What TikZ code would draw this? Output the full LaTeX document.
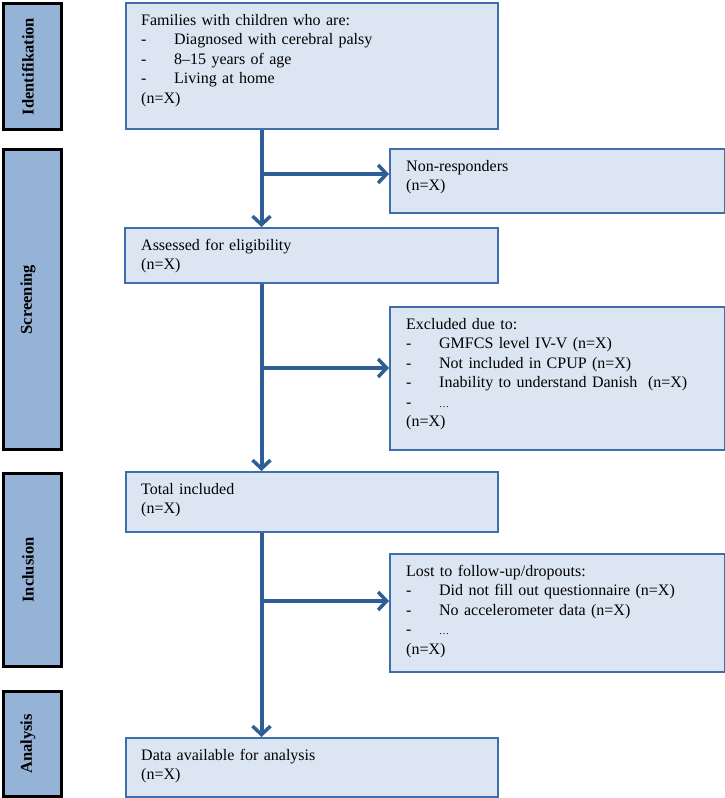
\documentclass[tikz,border=0pt]{standalone}
\usepackage{fontspec}
\setmainfont{Liberation Serif}
\usetikzlibrary{arrows.meta,calc}
\definecolor{boxfill}{HTML}{DCE6F2}
\definecolor{boxline}{HTML}{3F6FAA}
\definecolor{arrowc}{HTML}{2F5D95}
\definecolor{barfill}{HTML}{95B3D7}
\newcommand{\itm}[1]{\makebox[33pt][l]{-}#1}
\begin{document}
\begin{tikzpicture}[x=1pt,y=-1pt,
  box/.style={draw=boxline, fill=boxfill, line width=2pt, inner sep=0pt, anchor=north west},
  sidebar/.style={draw=black, fill=barfill, line width=3pt, inner sep=0pt, anchor=north west, minimum width=58pt},
  barlabel/.style={rotate=90, inner sep=0pt, font=\fontsize{16.5}{18}\selectfont\bfseries},
  txt/.style={anchor=north west, inner sep=0pt, text width=315pt, align=left, font=\fontsize{16}{19.5}\selectfont},
  flow/.style={draw=arrowc, line width=4pt, -{Straight Barb[length=8.5pt,width=18pt,line width=3.5pt]}}]

\useasboundingbox (0,0) rectangle (725,798);

% side bars
\node[sidebar, minimum height=126pt] (ident) at (2,2) {};
\node[sidebar, minimum height=300pt] (screen) at (2,148) {};
\node[sidebar, minimum height=193pt] (incl) at (2,472) {};
\node[sidebar, minimum height=105pt] (anal) at (2,690) {};
\node[barlabel] (identl) at ([xshift=-4.5pt]ident.center) {Identifikation};
\node[barlabel] (screenl) at ([xshift=-4.5pt]screen.center) {Screening};
\node[barlabel] (incll) at ([xshift=-4.5pt]incl.center) {Inclusion};
\node[barlabel] (anall) at ([xshift=-4.5pt]anal.center) {Analysis};

% boxes
\node[box, minimum width=372pt, minimum height=126pt] (top) at (125,2) {};
\node[box, minimum width=335pt, minimum height=64pt] (nonresp) at (389,148) {};
\node[box, minimum width=373pt, minimum height=55pt] (assess) at (124,227) {};
\node[box, minimum width=335pt, minimum height=143pt] (excl) at (389,306) {};
\node[box, minimum width=372pt, minimum height=60pt] (total) at (125,471) {};
\node[box, minimum width=335pt, minimum height=118pt] (lost) at (389,553) {};
\node[box, minimum width=372pt, minimum height=59pt] (data) at (125,737) {};

% texts
\node[txt] (topt) at ([xshift=16pt,yshift=-9.5pt]top.north west)
  {\strut Families with children who are:\\
   \itm{Diagnosed with cerebral palsy}\\
   \itm{8–15 years of age}\\
   \itm{Living at home}\\
   (n=X)};
\node[txt] (nonrespt) at ([xshift=17pt,yshift=-9.5pt]nonresp.north west)
  {\strut Non-responders\\(n=X)};
\node[txt] (assesst) at ([xshift=17pt,yshift=-9.5pt]assess.north west)
  {\strut Assessed for eligibility\\(n=X)};
\node[txt] (exclt) at ([xshift=17pt,yshift=-9.5pt]excl.north west)
  {\strut Excluded due to:\\
   \itm{GMFCS level IV-V (n=X)}\\
   \itm{Not included in CPUP (n=X)}\\
   \itm{Inability to understand Danish~ (n=X)}\\
   \itm{{\fontsize{10}{10}\selectfont …}}\\
   (n=X)};
\node[txt] (totalt) at ([xshift=16pt,yshift=-9.5pt]total.north west)
  {\strut Total included\\(n=X)};
\node[txt] (lostt) at ([xshift=17pt,yshift=-9.5pt]lost.north west)
  {\strut Lost to follow-up/dropouts:\\
   \itm{Did not fill out questionnaire (n=X)}\\
   \itm{No accelerometer data (n=X)}\\
   \itm{{\fontsize{10}{10}\selectfont …}}\\
   (n=X)};
\node[txt] (datat) at ([xshift=16pt,yshift=-9.5pt]data.north west)
  {\strut Data available for analysis\\(n=X)};

% connectors
\coordinate (sp) at (261.5,0);
\coordinate (b1) at ([yshift=7pt]nonresp.west);
\coordinate (b2) at ([yshift=10.5pt]excl.west);
\coordinate (b3) at ([yshift=12pt]lost.west);
\draw[flow] (top.south -| sp) -- (assess.north -| sp);
\draw[flow] (sp |- b1) -- (b1);
\draw[flow] (assess.south -| sp) -- (total.north -| sp);
\draw[flow] (sp |- b2) -- (b2);
\draw[flow] (total.south -| sp) -- (data.north -| sp);
\draw[flow] (sp |- b3) -- (b3);
\end{tikzpicture}
\end{document}
